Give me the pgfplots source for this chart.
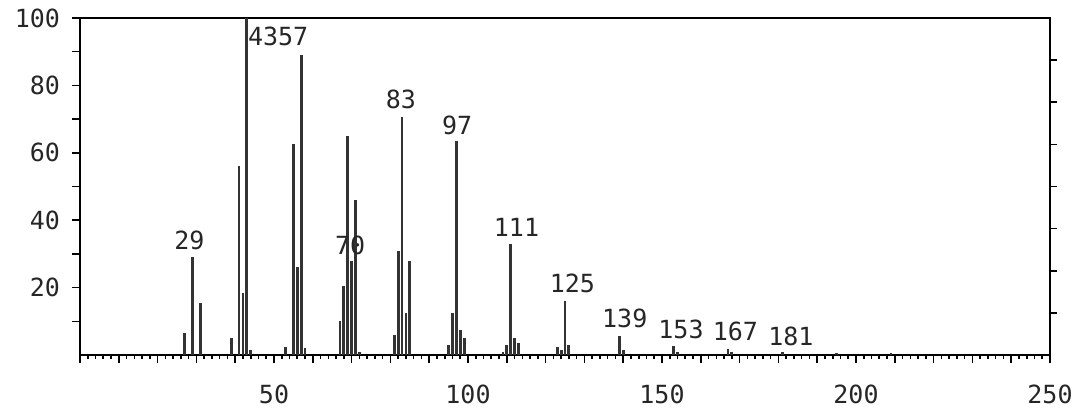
\documentclass[border=0pt]{standalone}
\usepackage{pgfplots}
\pgfplotsset{compat=1.18}
\usepackage{fontspec}
\setmainfont{DejaVu Sans Mono}
\newcommand{\lbl}{\fontsize{12.5}{14}\selectfont}
\begin{document}
\begin{tikzpicture}
\useasboundingbox (-40pt,-31pt) rectangle (499.5pt,177.5pt);
\begin{axis}[
  at={(0,0)}, anchor=south west,
  scale only axis, width=485pt, height=168.5pt,
  xmin=0, xmax=250, ymin=0, ymax=100,
  axis line style={line width=1pt, black},
  ytick={10,20,...,100},
  yticklabels={,20,,40,,60,,80,,100},
  ytick pos=left,
  xtick={0,10,...,250},
  xticklabels={,,,,,50,,,,,100,,,,,150,,,,,200,,,,,250},
  xtick pos=bottom,
  minor x tick num=4,
  tick align=outside,
  major tick length=4pt, minor tick length=2pt,
  tick style={line width=0.8pt, black},
  ticklabel style={font=\lbl, text=black!85},
  xticklabel style={yshift=-7.5pt},
  yticklabel style={xshift=-2.5pt},
  /pgf/number format/assume math mode=true,
  clip=false,
]
\addplot[ycomb, no marks, draw=black!80, line width=1.4pt] coordinates {
(27,6.5) (29,29) (31,15.5) (39,5) (41,56) (42,18.5) (43,100) (44,1.5)
(53,2.5) (55,62.5) (56,26) (57,89) (58,2)
(67,10) (68,20.5) (69,65) (70,28) (71,46) (72,1)
(81,6) (82,31) (83,70.5) (84,12.5) (85,28)
(95,3) (96,12.5) (97,63.5) (98,7.5) (99,5)
(109,1) (110,3) (111,33) (112,5) (113,3.5)
(123,2.5) (124,1.5) (125,16) (126,3)
(139,5.7) (140,1.5) (153,2.7) (154,1) (167,1.7) (168,1)
(181,0.8) (195,0.5) (209,0.5)
};
\node[font=\lbl, text=black!85] at (axis cs:28.2,34.1) {29};
\node[font=\lbl, text=black!85, anchor=west, inner sep=0pt] at (axis cs:43.2,94.5) {4357};
\node[font=\lbl, text=black!85] at (axis cs:69.6,32.6) {70};
\node[font=\lbl, text=black!85] at (axis cs:82.7,75.8) {83};
\node[font=\lbl, text=black!85] at (axis cs:97.2,68.2) {97};
\node[font=\lbl, text=black!85] at (axis cs:112.5,37.8) {111};
\node[font=\lbl, text=black!85] at (axis cs:126.9,21.2) {125};
\node[font=\lbl, text=black!85] at (axis cs:140.4,10.8) {139};
\node[font=\lbl, text=black!85] at (axis cs:154.9,7.7) {153};
\node[font=\lbl, text=black!85] at (axis cs:168.9,7.1) {167};
\node[font=\lbl, text=black!85] at (axis cs:183.2,5.4) {181};
\end{axis}
\begin{axis}[
  at={(0,0)}, anchor=south west,
  scale only axis, width=485pt, height=168.5pt,
  xmin=0, xmax=250, ymin=0, ymax=100,
  hide x axis,
  axis y line*=right,
  axis line style={line width=1pt, black},
  ytick={12.5,25,...,87.5},
  yticklabels={},
  tick align=outside,
  major tick length=3.5pt,
  tick style={line width=0.8pt, black},
]
\end{axis}
\end{tikzpicture}
\end{document}
